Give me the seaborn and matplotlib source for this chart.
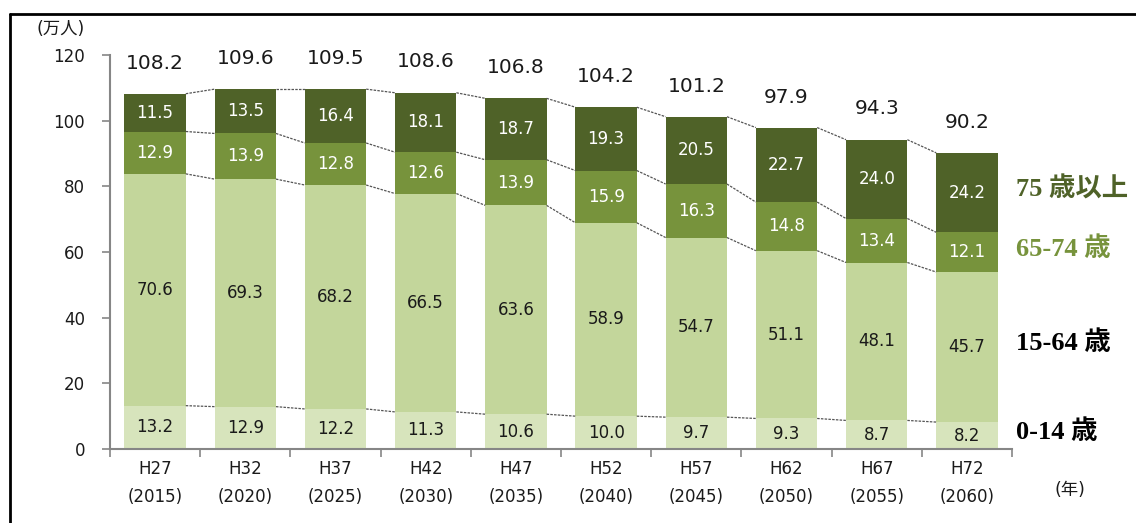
import matplotlib
matplotlib.use("Agg")
from matplotlib import pyplot as plt
from matplotlib.lines import Line2D
import pandas as pd
import seaborn as sns
import numpy as np

# data (万人)
years = ["H27\n(2015)", "H32\n(2020)", "H37\n(2025)", "H42\n(2030)", "H47\n(2035)",
         "H52\n(2040)", "H57\n(2045)", "H62\n(2050)", "H67\n(2055)", "H72\n(2060)"]
age_0_14 = [13.2, 12.9, 12.2, 11.3, 10.6, 10.0, 9.7, 9.3, 8.7, 8.2]
age_15_64 = [70.6, 69.3, 68.2, 66.5, 63.6, 58.9, 54.7, 51.1, 48.1, 45.7]
age_65_74 = [12.9, 13.9, 12.8, 12.6, 13.9, 15.9, 16.3, 14.8, 13.4, 12.1]
age_75 = [11.5, 13.5, 16.4, 18.1, 18.7, 19.3, 20.5, 22.7, 24.0, 24.2]
totals = [108.2, 109.6, 109.5, 108.6, 106.8, 104.2, 101.2, 97.9, 94.3, 90.2]
group_names = ["0-14 歳", "15-64 歳", "65-74 歳", "75 歳以上"]

layers = [age_0_14, age_15_64, age_65_74, age_75]
colors = ["#D7E4BC", "#C3D69B", "#77933C", "#4F6228"]
text_colors = ["#1a1a1a", "#1a1a1a", "white", "white"]
side_colors = ["black", "black", "#77933C", "#4F6228"]

df = pd.DataFrame({"year": years})
cum = np.cumsum(np.array(layers), axis=0)
for i in range(4):
    df[f"c{i}"] = cum[i]

sns.set_style("white")
plt.rcParams["font.family"] = ["DejaVu Sans", "Noto Sans CJK JP"]

fig = plt.figure(figsize=(11.36, 5.23), dpi=100)
ax = fig.add_axes([110 / 1136, 74 / 523, 902 / 1136, 394 / 523])

bar_w = 0.68
# stacked bars: draw cumulative heights from the top layer down
for i in reversed(range(4)):
    sns.barplot(data=df, x="year", y=f"c{i}", color=colors[i], width=bar_w,
                saturation=1, linewidth=0, ax=ax)

# series lines between bars
for i in range(4):
    for j in range(len(years) - 1):
        ax.plot([j + bar_w / 2, j + 1 - bar_w / 2], [cum[i][j], cum[i][j + 1]],
                color="#555555", lw=0.9, ls=(0, (2, 1)), zorder=3)

# segment labels
for i in range(4):
    for j in range(len(years)):
        bottom = cum[i][j] - layers[i][j]
        ax.text(j, bottom + layers[i][j] / 2, f"{layers[i][j]:.1f}",
                ha="center", va="center", fontsize=12, color=text_colors[i])

# totals
for j, t in enumerate(totals):
    ax.annotate(f"{t:.1f}", (j, t), xytext=(0, 22), textcoords="offset points",
                ha="center", va="center", fontsize=14.5, color="#1a1a1a")

# group labels at right of last bar
last = len(years) - 1
for i in range(4):
    mid = cum[i][last] - layers[i][last] / 2
    ax.text(last + bar_w / 2 + 0.2, mid + 1.2, group_names[i], ha="left", va="center",
            fontsize=19, fontweight="bold", color=side_colors[i],
            family=["Liberation Serif", "Noto Sans CJK JP"], clip_on=False)

ax.set_xlim(-0.5, len(years) - 0.5)
ax.set_ylim(0, 120)
ax.set_yticks(range(0, 121, 20))
ax.set_xlabel("")
ax.set_ylabel("")
ax.set_xticks(range(len(years)))
ax.set_xticklabels(years, fontsize=12, linespacing=1.7, color="#1a1a1a")
ax.set_xticks(np.arange(-0.5, len(years), 1), minor=True)
ax.tick_params(axis="x", which="major", length=0, pad=8)
ax.tick_params(axis="x", which="minor", length=6, width=1.2, color="#868686",
               direction="out", bottom=True)
ax.tick_params(axis="y", length=6, width=1.2, color="#868686", direction="out",
               left=True, labelsize=12, labelcolor="#1a1a1a", pad=12)

for s in ["top", "right"]:
    ax.spines[s].set_visible(False)
for s in ["left", "bottom"]:
    ax.spines[s].set_color("#868686")
    ax.spines[s].set_linewidth(1.5)

fig.text(36 / 1136, 1 - 29 / 523, "(万人)", fontsize=12.5, color="#1a1a1a",
         ha="left", va="center")
fig.text(1055 / 1136, 1 - 490 / 523, "(年)", fontsize=12.5, color="#1a1a1a",
         ha="left", va="center")

# outer frame (top and left edges visible)
fig.add_artist(Line2D([10 / 1136, 1], [1 - 14 / 523, 1 - 14 / 523],
                      color="black", lw=2, transform=fig.transFigure))
fig.add_artist(Line2D([10 / 1136, 10 / 1136], [0, 1 - 14 / 523],
                      color="black", lw=2, transform=fig.transFigure))

fig.savefig("out.png", dpi=100, facecolor="white")
